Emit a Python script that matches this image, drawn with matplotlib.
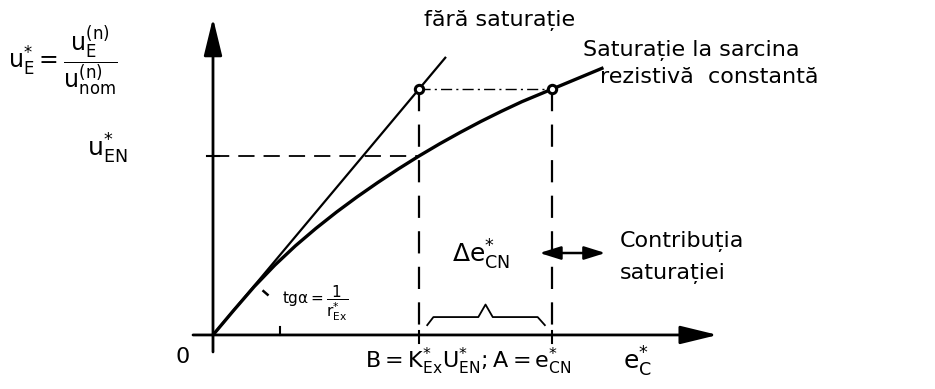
import matplotlib
matplotlib.use("Agg")
import matplotlib.pyplot as plt

plt.rcParams["font.family"] = ["DejaVu Sans"]
plt.rcParams["mathtext.default"] = "regular"
plt.rcParams["mathtext.fontset"] = "dejavusans"

# Per-unit quantities: e*_C on the horizontal axis, u*_E on the vertical axis
e_B = 1.0            # B = K*_Ex U*_EN
e_A = 1.646          # A = e*_CN
u_EN = 1.0
slope_lin = 1.374    # tg(alpha) = 1 / r*_Ex
e_lin_end = 1.131
u_A = slope_lin * e_B

# Saturated characteristic at constant resistive load
e_sat = [0, 0.1, 0.2, 0.3, 0.4, 0.5, 0.6, 0.7, 0.8, 0.9, 1.0,
         1.1, 1.2, 1.3, 1.4, 1.5, 1.646, 1.888]
u_sat = [0, 0.137, 0.27, 0.39, 0.498, 0.596, 0.687, 0.772, 0.852, 0.928, 1.0,
         1.068, 1.132, 1.193, 1.25, 1.304, 1.374, 1.49]

fig = plt.figure(figsize=(9.35, 3.89), dpi=100)
ax = fig.add_axes([0, 0, 1, 1])
ax.set_xlim(-1.034, 3.505)
ax.set_ylim(-0.302, 1.872)
ax.axis("off")

k = "black"

# coordinate axes with arrow heads
head = "-|>,head_length=1.15,head_width=0.28"
ax.annotate("", xy=(2.45, 0), xytext=(-0.097, 0),
            arrowprops=dict(arrowstyle=head, lw=2.0, color=k, mutation_scale=20,
                            shrinkA=0, shrinkB=0))
ax.annotate("", xy=(0, 1.771), xytext=(0, -0.095),
            arrowprops=dict(arrowstyle=head, lw=2.0, color=k, mutation_scale=20,
                            shrinkA=0, shrinkB=0))

# unsaturated straight line and saturated curve
ax.plot([0, e_lin_end], [0, slope_lin * e_lin_end], color=k, lw=1.6, solid_capstyle="butt")
ax.plot(e_sat, u_sat, color=k, lw=2.4, solid_joinstyle="round")

# construction lines
ax.plot([0, e_B], [u_EN, u_EN], color=k, lw=1.3, dashes=(9, 5))
ax.plot([e_B, e_A], [u_A, u_A], color=k, lw=1.0, dashes=(8, 3, 1.5, 3))
ax.plot([e_B, e_B], [u_A, 0], color=k, lw=1.6, dashes=(10, 6))
ax.plot([e_A, e_A], [u_A, 0], color=k, lw=1.6, dashes=(10, 6))

# small ticks on the axes
ax.plot([-0.03, 0.03], [u_EN, u_EN], color=k, lw=1.5)
for x in (e_B, e_A):
    ax.plot([x, x], [0.02, -0.045], color=k, lw=1.5)

# marked points
ax.plot([e_B, e_A], [u_A, u_A], "o", ms=6, mfc="white", mec=k, mew=2.2)

# angle alpha marks
ax.plot([0.325, 0.325], [0, 0.045], color=k, lw=1.5)
ax.plot([0.245, 0.265], [0.245, 0.225], color=k, lw=1.8)

# brace over the saturation contribution
mid = 0.5 * (e_B + e_A)
bx = [e_B + 0.04, e_B + 0.07, mid - 0.035, mid, mid + 0.035, e_A - 0.07, e_A - 0.035]
by = [0.055, 0.1, 0.1, 0.17, 0.1, 0.1, 0.055]
ax.plot(bx, by, color=k, lw=1.3)

# double arrow to the note
ax.annotate("", xy=(1.905, 0.458), xytext=(1.585, 0.458),
            arrowprops=dict(arrowstyle="<|-|>,head_length=0.8,head_width=0.25",
                            lw=1.8, color=k, mutation_scale=16, shrinkA=0, shrinkB=0))

fs = 16
ax.text(1.393, 1.76, "fără saturație", fontsize=fs, ha="center", va="center")
ax.text(1.796, 1.59, "Saturație la sarcina", fontsize=fs, ha="left", va="center")
ax.text(1.879, 1.44, "rezistivă  constantă", fontsize=fs, ha="left", va="center")
ax.text(1.976, 0.52, "Contribuția", fontsize=fs, ha="left", va="center")
ax.text(1.976, 0.345, "saturației", fontsize=fs, ha="left", va="center")
ax.text(1.16, 0.45, r"$\Delta e^{*}_{CN}$", fontsize=fs + 2, ha="left", va="center")

ax.text(-0.146, -0.123, "0", fontsize=fs, ha="center", va="center")
ax.text(0.738, -0.15, r"$B = K^{*}_{Ex}U^{*}_{EN}; A = e^{*}_{CN}$", fontsize=fs,
        ha="left", va="center")
ax.text(1.99, -0.15, r"$e^{*}_{C}$", fontsize=fs + 2, ha="left", va="center")

ax.text(-0.995, 1.53, r"$u^{*}_{E} = \dfrac{u^{(n)}_{E}}{u^{(n)}_{nom}}$", fontsize=fs + 1,
        ha="left", va="center")
ax.text(-0.612, 1.04, r"$u^{*}_{EN}$", fontsize=fs + 2, ha="left", va="center")
ax.text(0.335, 0.18, r"$tg\alpha = \dfrac{1}{r^{*}_{Ex}}$", fontsize=11, ha="left", va="center")

fig.savefig("out.png", dpi=100)
